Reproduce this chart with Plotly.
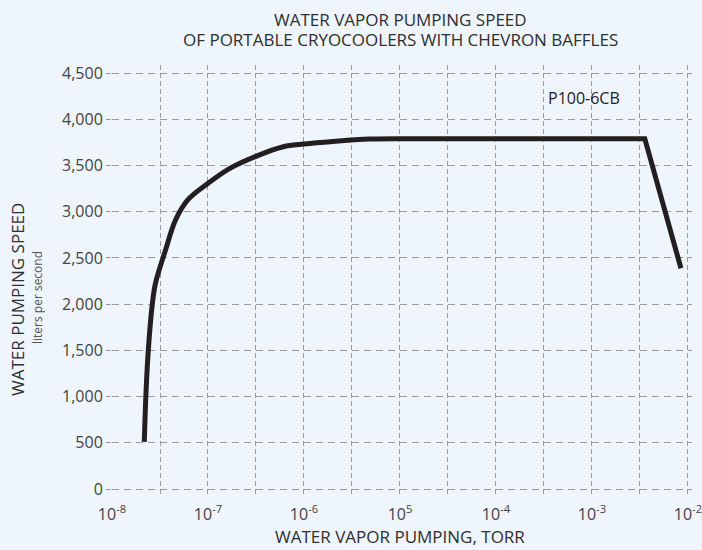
import math
import plotly.graph_objects as go

# Data
# rising part of the curve (smooth)
rise_torr = [2.17e-8, 2.26e-8, 2.39e-8, 2.63e-8, 2.84e-8, 3.61e-8, 4.59e-8, 6.12e-8,
             1.0e-7, 1.69e-7, 3.2e-7, 6.1e-7, 1.0e-6, 2.0e-6, 4.9e-6, 1.0e-5]
rise_lps = [510, 1038, 1504, 2001, 2228, 2585, 2910, 3126,
            3307, 3469, 3602, 3703, 3732, 3760, 3786, 3790]
# plateau and fall-off (straight segments)
plateau_torr = [1.0e-5, 1.0e-4, 1.0e-3, 3.55e-3, 8.45e-3]
plateau_lps = [3790, 3790, 3790, 3790, 2388]

curve_label = "P100-6CB"
label_x = 8.3e-4
label_y = 4230

x_tickvals = [1e-8, 10**-7.5, 1e-7, 10**-6.5, 1e-6, 10**-5.5, 1e-5, 10**-4.5,
              1e-4, 10**-3.5, 1e-3, 10**-2.5, 1e-2]
x_ticktext = ["10<sup>-8</sup>", "", "10<sup>-7</sup>", "", "10<sup>-6</sup>", "",
              "10<sup>5</sup>", "", "10<sup>-4</sup>", "", "10<sup>-3</sup>", "",
              "10<sup>-2</sup>"]
y_tickvals = [0, 500, 1000, 1500, 2000, 2500, 3000, 3500, 4000, 4500]

title_line1 = "WATER VAPOR PUMPING SPEED"
title_line2 = "OF PORTABLE CRYOCOOLERS WITH CHEVRON BAFFLES"
x_title = "WATER VAPOR PUMPING, TORR"
y_title = "WATER PUMPING SPEED"
y_subtitle = "liters per second"

BG = "#EEF5FC"
GRID = "#9a9a9a"
TXT = "#2f2f2f"
LINE = "#231f20"
FONT = "Open Sans"

# plot area in pixels: left 112, right 692, top 65, bottom 497
def py(p):
    return (497 - p) / 432.0

def px(p):
    return (p - 112) / 580.0

fig = go.Figure()
fig.add_trace(go.Scatter(
    x=rise_torr, y=rise_lps, mode="lines",
    line=dict(color=LINE, width=5, shape="spline", smoothing=1.0),
    hoverinfo="skip", showlegend=False,
))
fig.add_trace(go.Scatter(
    x=plateau_torr, y=plateau_lps, mode="lines",
    line=dict(color=LINE, width=5),
    hoverinfo="skip", showlegend=False,
))

# annotation x on a log axis is given in log10 units
fig.add_annotation(x=math.log10(label_x), y=label_y, xref="x", yref="y", text=curve_label,
                   showarrow=False, font=dict(family=FONT, size=16, color="#222222",
                                              weight=500),
                   xanchor="center", yanchor="middle")

fig.add_annotation(x=px(400), y=py(20), xref="paper", yref="paper", text=title_line1,
                   showarrow=False, xanchor="center", yanchor="middle",
                   font=dict(family=FONT, size=17, color=TXT))
fig.add_annotation(x=px(400), y=py(40), xref="paper", yref="paper", text=title_line2,
                   showarrow=False, xanchor="center", yanchor="middle",
                   font=dict(family=FONT, size=17, color=TXT))

fig.add_annotation(x=px(17), y=py(300), xref="paper", yref="paper", text=y_title,
                   textangle=-90, showarrow=False, xanchor="center", yanchor="middle",
                   font=dict(family=FONT, size=17, color=TXT))
fig.add_annotation(x=px(37), y=py(298), xref="paper", yref="paper", text=y_subtitle,
                   textangle=-90, showarrow=False, xanchor="center", yanchor="middle",
                   font=dict(family=FONT, size=12, color="#555555"))
fig.add_annotation(x=px(400), y=py(536), xref="paper", yref="paper", text=x_title,
                   showarrow=False, xanchor="center", yanchor="middle",
                   font=dict(family=FONT, size=17, color=TXT))

fig.update_layout(
    width=702, height=550,
    paper_bgcolor=BG, plot_bgcolor=BG,
    margin=dict(l=112, r=10, t=65, b=53, pad=0, autoexpand=False),
    font=dict(family=FONT, color=TXT),
    xaxis=dict(
        type="log", range=[-8, -1.958], automargin=False,
        tickvals=x_tickvals, ticktext=x_ticktext,
        showgrid=True, gridcolor=GRID, gridwidth=1.2, griddash="5px,3px",
        zeroline=False, showline=False, ticks="outside", ticklen=3,
        tickcolor="rgba(0,0,0,0)", ticklabeloverflow="allow",
        tickfont=dict(family=FONT, size=16, color="#444444"),
    ),
    yaxis=dict(
        range=[-86, 4587], tickvals=y_tickvals, tickformat=",", automargin=False,
        showgrid=True, gridcolor=GRID, gridwidth=1.2, griddash="7px,5px",
        zeroline=False, showline=False, ticks="outside", ticklen=5,
        tickcolor=GRID, tickwidth=1.2,
        tickfont=dict(family=FONT, size=16, color="#444444"),
    ),
)

fig.write_html(
    "out.html",
    config={"displayModeBar": False},
    post_script="document.body.style.margin='0';document.body.style.background='%s';" % BG,
)
